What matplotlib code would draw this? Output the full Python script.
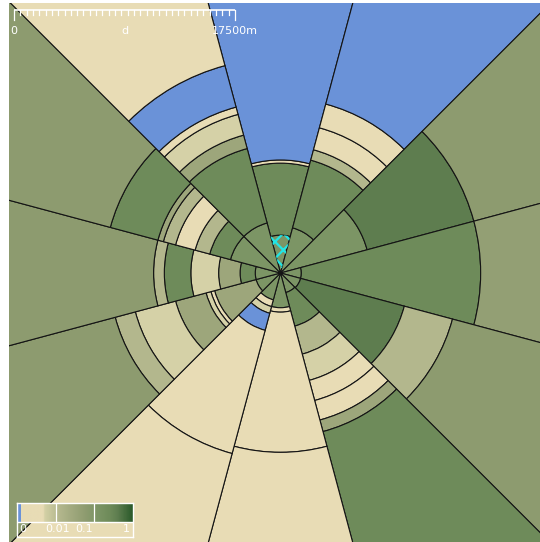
import numpy as np
import matplotlib
matplotlib.use("Agg")
import matplotlib.pyplot as plt
from matplotlib.patches import Wedge
from matplotlib.collections import PatchCollection
from matplotlib.colors import LinearSegmentedColormap, LogNorm

# sector centre bearings (deg clockwise from north), every sector is 30 deg wide
bearings = [0, 30, 60, 90, 120, 150, 180, 210, 240, 270, 300, 330]

# ring boundaries for each sector, km from the centre (last ring runs off the map)
ring_edges = [
    [3.0, 8.7, 8.95],
    [3.7, 9.25, 10.1, 11.9, 13.85],
    [7.1, 15.85],
    [1.65, 15.85],
    [1.65, 10.15, 14.1],
    [1.6, 4.35, 6.65, 8.8, 10.45, 12.05, 13.0],
    [2.75, 3.1, 14.2],
    [2.2, 2.75, 3.3, 4.7, 14.8],
    [2.0, 5.4, 5.7, 6.1, 8.6, 11.9, 13.55],
    [2.0, 3.2, 4.9, 7.1, 9.2, 10.05],
    [4.1, 5.8, 7.0, 8.6, 9.6, 10.05, 13.95],
    [4.1, 10.2, 11.3, 13.0, 13.6, 17.0],
]

# value of every ring (0 = no value), one more than the edges
ring_values = [
    [0.12, 0.25, 0.002, 0],
    [0.12, 0.25, 0.012, 0.002, 0.003, 0],
    [0.12, 0.4, 0.06],
    [0.12, 0.25, 0.045],
    [0.12, 0.4, 0.012, 0.06],
    [0.12, 0.25, 0.012, 0.005, 0.002, 0.003, 0.03, 0.25],
    [0.12, 0.003, 0.002, 0.0025],
    [0.12, 0.002, 0.005, 0, 0.002, 0.003],
    [0.12, 0.03, 0.002, 0.005, 0.03, 0.005, 0.012, 0.06],
    [0.12, 0.25, 0.03, 0.005, 0.25, 0.012, 0.06],
    [0.12, 0.25, 0.012, 0.002, 0.012, 0.03, 0.25, 0.06],
    [0.12, 0.25, 0.03, 0.005, 0.002, 0, 0.002],
]

selected = (0, 0)  # sector, ring drawn hatched

# colour scale (log, 0.001 .. 1)
stop_values = [0.001, 0.0045, 0.005, 0.012, 0.03, 0.06, 0.12, 0.25, 0.4, 1.0]
stop_colors = ['#E8DCB5', '#E8DCB5', '#D3D0A5', '#B3B78D', '#9DA67B',
               '#8D9B6F', '#7C9565', '#6E8B5A', '#5F7E50', '#2A5A2A']
no_value_color = '#6A92D8'

cbar_labels = ['0', '0.01', '0.1', '1']
scale_length = 17.5  # km
scale_step = 0.5

km_per_px = scale_length / 221.0

pos = [(np.log10(v) + 3) / 3 for v in stop_values]
cmap = LinearSegmentedColormap.from_list('zones', list(zip(pos, stop_colors)))
cmap.set_bad(no_value_color)
norm = LogNorm(vmin=0.001, vmax=1.0)

plt.rcParams['hatch.linewidth'] = 1.6

fig = plt.figure(figsize=(5.4, 5.42), dpi=100)
ax = fig.add_axes([9 / 540, 0, 531 / 540, 539 / 542])

patches, values = [], []
for b, edges, vals in zip(bearings, ring_edges, ring_values):
    t1, t2 = 90 - b - 15, 90 - b + 15
    inner = 0.0
    for j, v in enumerate(vals):
        outer = edges[j] if j < len(edges) else 60.0
        w = None if inner == 0 else outer - inner
        patches.append(Wedge((0, 0), outer, t1, t2, width=w))
        values.append(v)
        inner = outer

pc = PatchCollection(patches, cmap=cmap, norm=norm, edgecolor='#141414', linewidth=0.8)
pc.set_array(np.ma.masked_less_equal(np.array(values), 0))
ax.add_collection(pc)

# hatched (selected) cell
si, sj = selected
b = bearings[si]
r_out = ring_edges[si][sj]
ax.add_patch(Wedge((0, 0), r_out, 90 - b - 15, 90 - b + 15, width=r_out - 0.4,
                   facecolor='none', edgecolor='#22E5E5', hatch='xx', linewidth=0))

ax.set_xlim(-271.5 * km_per_px, 259.5 * km_per_px)
ax.set_ylim(-269 * km_per_px, 270 * km_per_px)
ax.set_aspect('equal')
ax.set_axis_off()

# scale bar
x0 = (14 - 280.5) * km_per_px
y0 = (273 - 10) * km_per_px
ax.plot([x0, x0 + scale_length], [y0, y0], color='white', lw=1.2, solid_capstyle='butt')
n = int(round(scale_length / scale_step))
for k in range(n + 1):
    ln = 10 if k in (0, n) else 5
    xx = x0 + k * scale_step
    ax.plot([xx, xx], [y0, y0 - ln * km_per_px], color='white', lw=0.9)
ty = y0 - 21 * km_per_px
ax.text(x0, ty, '0', color='white', fontsize=8, ha='center', va='center')
ax.text(x0 + scale_length / 2, ty, 'd', color='white', fontsize=8, ha='center', va='center')
ax.text(x0 + scale_length, ty, '%dm' % (scale_length * 1000), color='white', fontsize=8,
        ha='center', va='center')

# colour legend box
cax = fig.add_axes([16.7 / 540, (542 - 537) / 542, 116 / 540, 34 / 542])
cax.set_xlim((16.7 - 18) / 38 - 3, (132.7 - 18) / 38 - 3)
cax.set_ylim(0, 1)
ybar = 15 / 34
grad = np.logspace(-3, 0, 300)[None, :]
cax.imshow(grad, cmap=cmap, norm=norm, aspect='auto', extent=[-3, 0, ybar, 1])
cax.fill_between([-3, -3 + 2.7 / 38], ybar, 1, color=no_value_color, lw=0)
cax.axhline(ybar, color='white', lw=1)
for t in (-2, -1):
    cax.plot([t, t], [ybar, 1], color='white', lw=0.9)
for lab, px in zip(cbar_labels, [23, 58, 84, 126]):
    cax.text((px - 18) / 38 - 3, ybar / 2, lab, color='white', fontsize=8,
             ha='center', va='center')
cax.patch.set_alpha(0)
cax.set_xticks([])
cax.set_yticks([])
for sp in cax.spines.values():
    sp.set_color('white')
    sp.set_linewidth(1)

fig.savefig('out.png', dpi=100)
